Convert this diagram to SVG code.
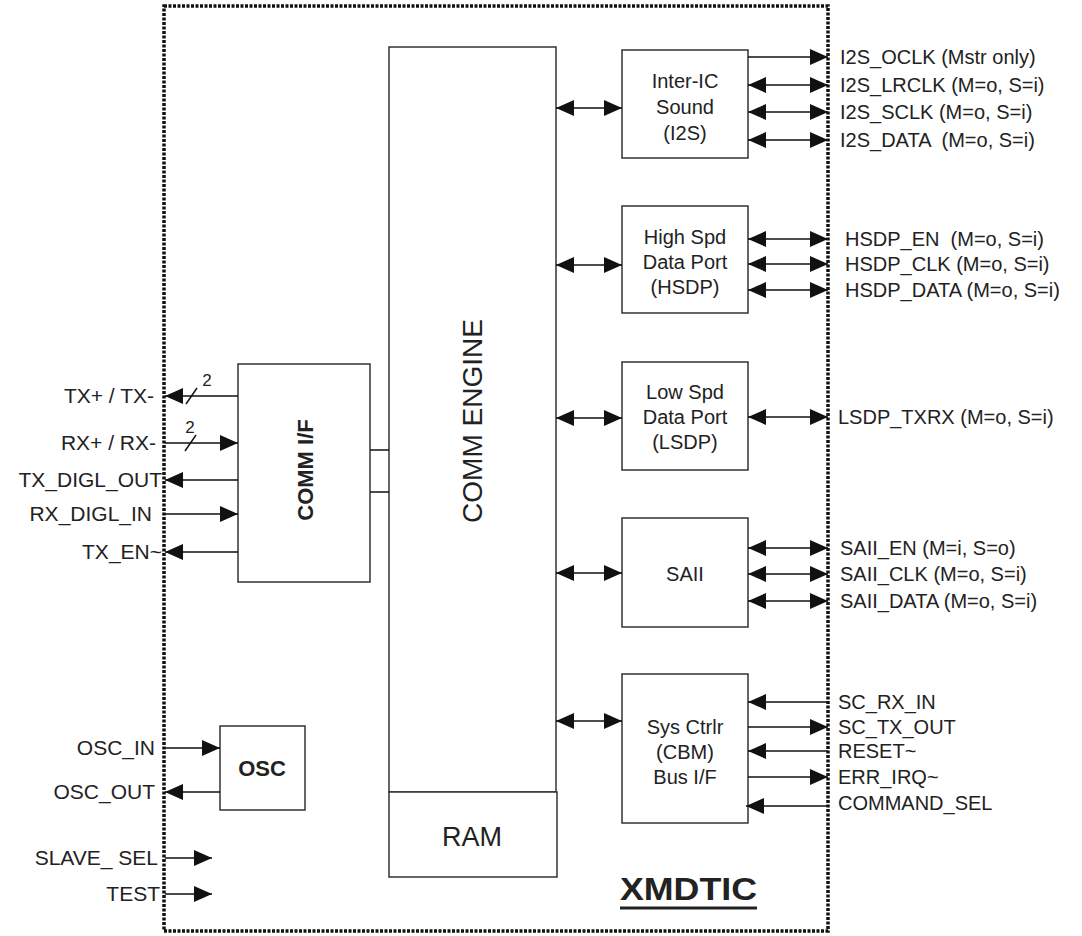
<svg xmlns="http://www.w3.org/2000/svg" width="1082" height="936" viewBox="0 0 1082 936">
<style>
.bx{fill:#fff;stroke:#333;stroke-width:1.5}
.ln{stroke:#111;stroke-width:1.5;fill:none}
.t{font-family:"Liberation Sans",Arial,sans-serif;fill:#222}
.lbl{font-size:21px}
.rl{font-size:20px}
.bt{font-size:20px;text-anchor:middle}
.b{font-weight:bold}
</style>
<defs>
<marker id="ah" viewBox="0 0 18 16" refX="18" refY="8" markerWidth="18" markerHeight="16" markerUnits="userSpaceOnUse" orient="auto-start-reverse"><path d="M0,0 L18,8 L0,16 z" fill="#111"/></marker>
</defs>
<rect width="1082" height="936" fill="#fff"/>

<g id="chip-border">
<rect x="164" y="6" width="664" height="925" fill="none" stroke="#111" stroke-width="3.5" stroke-dasharray="3 1.5"/>
</g>

<g id="comm-engine">
<rect class="bx" x="389" y="47" width="167" height="745"/>
<text class="t" font-size="28" text-anchor="middle" transform="translate(482,421) rotate(-90)">COMM ENGINE</text>
</g>
<g id="ram">
<rect class="bx" x="389" y="792" width="168" height="85"/>
<text class="t" font-size="27" text-anchor="middle" x="472" y="846">RAM</text>
</g>

<g id="i2s">
<rect class="bx" x="622" y="50" width="126" height="108"/>
<text class="t bt" x="685" y="88">Inter-IC</text>
<text class="t bt" x="685" y="114">Sound</text>
<text class="t bt" x="685" y="140">(I2S)</text>
</g>
<g id="hsdp">
<rect class="bx" x="622" y="206" width="126" height="107"/>
<text class="t bt" x="685" y="244">High Spd</text>
<text class="t bt" x="685" y="269">Data Port</text>
<text class="t bt" x="685" y="294">(HSDP)</text>
</g>
<g id="lsdp">
<rect class="bx" x="622" y="362" width="126" height="108"/>
<text class="t bt" x="685" y="399">Low Spd</text>
<text class="t bt" x="685" y="424">Data Port</text>
<text class="t bt" x="685" y="449">(LSDP)</text>
</g>
<g id="saii">
<rect class="bx" x="622" y="518" width="126" height="109"/>
<text class="t bt" x="685" y="581">SAII</text>
</g>
<g id="sysctrl">
<rect class="bx" x="622" y="674" width="126" height="149"/>
<text class="t bt" x="685" y="734">Sys Ctrlr</text>
<text class="t bt" x="685" y="759">(CBM)</text>
<text class="t bt" x="685" y="784">Bus I/F</text>
</g>
<g id="comm-if">
<rect class="bx" x="238" y="364" width="132" height="218"/>
<text class="t b" font-size="22" text-anchor="middle" transform="translate(313,470) rotate(-90)">COMM I/F</text>
</g>
<g id="osc">
<rect class="bx" x="220" y="726" width="85" height="84"/>
<text class="t b" font-size="22" text-anchor="middle" x="262" y="776">OSC</text>
</g>
<g id="title">
<text class="t b" font-size="31" x="620" y="900" textLength="137" lengthAdjust="spacingAndGlyphs">XMDTIC</text>
<line x1="620" y1="908" x2="757" y2="908" stroke="#222" stroke-width="3"/>
</g>

<g id="connectors">
<line class="ln" x1="370" y1="450" x2="389" y2="450"/>
<line class="ln" x1="370" y1="492" x2="389" y2="492"/>
<line class="ln" x1="556" y1="108" x2="622" y2="108" marker-start="url(#ah)" marker-end="url(#ah)"/>
<line class="ln" x1="556" y1="265" x2="622" y2="265" marker-start="url(#ah)" marker-end="url(#ah)"/>
<line class="ln" x1="556" y1="418" x2="622" y2="418" marker-start="url(#ah)" marker-end="url(#ah)"/>
<line class="ln" x1="556" y1="573" x2="622" y2="573" marker-start="url(#ah)" marker-end="url(#ah)"/>
<line class="ln" x1="556" y1="721" x2="622" y2="721" marker-start="url(#ah)" marker-end="url(#ah)"/>

<line class="ln" x1="748" y1="57" x2="828" y2="57" marker-end="url(#ah)"/>
<line class="ln" x1="748" y1="85" x2="828" y2="85" marker-start="url(#ah)" marker-end="url(#ah)"/>
<line class="ln" x1="748" y1="112" x2="828" y2="112" marker-start="url(#ah)" marker-end="url(#ah)"/>
<line class="ln" x1="748" y1="140" x2="828" y2="140" marker-start="url(#ah)" marker-end="url(#ah)"/>
<text class="t rl" x="840" y="64">I2S_OCLK (Mstr only)</text>
<text class="t rl" x="840" y="92">I2S_LRCLK (M=o, S=i)</text>
<text class="t rl" x="840" y="119">I2S_SCLK (M=o, S=i)</text>
<text class="t rl" x="840" y="147" xml:space="preserve">I2S_DATA  (M=o, S=i)</text>

<line class="ln" x1="748" y1="239" x2="828" y2="239" marker-start="url(#ah)" marker-end="url(#ah)"/>
<line class="ln" x1="748" y1="264" x2="828" y2="264" marker-start="url(#ah)" marker-end="url(#ah)"/>
<line class="ln" x1="748" y1="290" x2="828" y2="290" marker-start="url(#ah)" marker-end="url(#ah)"/>
<text class="t rl" x="845" y="246" xml:space="preserve">HSDP_EN  (M=o, S=i)</text>
<text class="t rl" x="845" y="271">HSDP_CLK (M=o, S=i)</text>
<text class="t rl" x="845" y="297">HSDP_DATA (M=o, S=i)</text>

<line class="ln" x1="748" y1="417" x2="828" y2="417" marker-start="url(#ah)" marker-end="url(#ah)"/>
<text class="t rl" x="838" y="424">LSDP_TXRX (M=o, S=i)</text>

<line class="ln" x1="748" y1="548" x2="828" y2="548" marker-start="url(#ah)" marker-end="url(#ah)"/>
<line class="ln" x1="748" y1="574" x2="828" y2="574" marker-start="url(#ah)" marker-end="url(#ah)"/>
<line class="ln" x1="748" y1="601" x2="828" y2="601" marker-start="url(#ah)" marker-end="url(#ah)"/>
<text class="t rl" x="840" y="555">SAII_EN (M=i, S=o)</text>
<text class="t rl" x="840" y="581">SAII_CLK (M=o, S=i)</text>
<text class="t rl" x="840" y="608">SAII_DATA (M=o, S=i)</text>

<line class="ln" x1="828" y1="702" x2="748" y2="702" marker-end="url(#ah)"/>
<line class="ln" x1="748" y1="727" x2="828" y2="727" marker-end="url(#ah)"/>
<line class="ln" x1="828" y1="751" x2="748" y2="751" marker-end="url(#ah)"/>
<line class="ln" x1="748" y1="777" x2="828" y2="777" marker-end="url(#ah)"/>
<line class="ln" x1="828" y1="806" x2="746" y2="806" marker-end="url(#ah)"/>
<text class="t rl" x="838" y="709">SC_RX_IN</text>
<text class="t rl" x="838" y="734">SC_TX_OUT</text>
<text class="t rl" x="838" y="758">RESET~</text>
<text class="t rl" x="838" y="784">ERR_IRQ~</text>
<text class="t rl" x="838" y="810">COMMAND_SEL</text>

<line class="ln" x1="238" y1="396" x2="165" y2="396" marker-end="url(#ah)"/>
<line class="ln" x1="186" y1="404" x2="197" y2="388"/>
<text class="t" font-size="17" text-anchor="middle" x="207" y="386">2</text>
<line class="ln" x1="165" y1="443" x2="238" y2="443" marker-end="url(#ah)"/>
<line class="ln" x1="185" y1="451" x2="196" y2="435"/>
<text class="t" font-size="17" text-anchor="middle" x="190" y="433">2</text>
<line class="ln" x1="238" y1="480" x2="165" y2="480" marker-end="url(#ah)"/>
<line class="ln" x1="165" y1="514" x2="238" y2="514" marker-end="url(#ah)"/>
<line class="ln" x1="238" y1="552" x2="165" y2="552" marker-end="url(#ah)"/>
<text class="t lbl" text-anchor="end" x="154" y="403">TX+ / TX-</text>
<text class="t lbl" text-anchor="end" x="156" y="450">RX+ / RX-</text>
<text class="t lbl" text-anchor="end" x="162" y="487">TX_DIGL_OUT</text>
<text class="t lbl" text-anchor="end" x="152" y="521">RX_DIGL_IN</text>
<text class="t lbl" text-anchor="end" x="162" y="559">TX_EN~</text>

<line class="ln" x1="165" y1="748" x2="220" y2="748" marker-end="url(#ah)"/>
<line class="ln" x1="220" y1="792" x2="165" y2="792" marker-end="url(#ah)"/>
<text class="t lbl" text-anchor="end" x="155" y="755">OSC_IN</text>
<text class="t lbl" text-anchor="end" x="155" y="799">OSC_OUT</text>

<line class="ln" x1="165" y1="858" x2="212" y2="858" marker-end="url(#ah)"/>
<line class="ln" x1="165" y1="894" x2="212" y2="894" marker-end="url(#ah)"/>
<text class="t lbl" text-anchor="end" x="158" y="865" xml:space="preserve">SLAVE_ SEL</text>
<text class="t lbl" text-anchor="end" x="160" y="901">TEST</text>
</g>
</svg>
